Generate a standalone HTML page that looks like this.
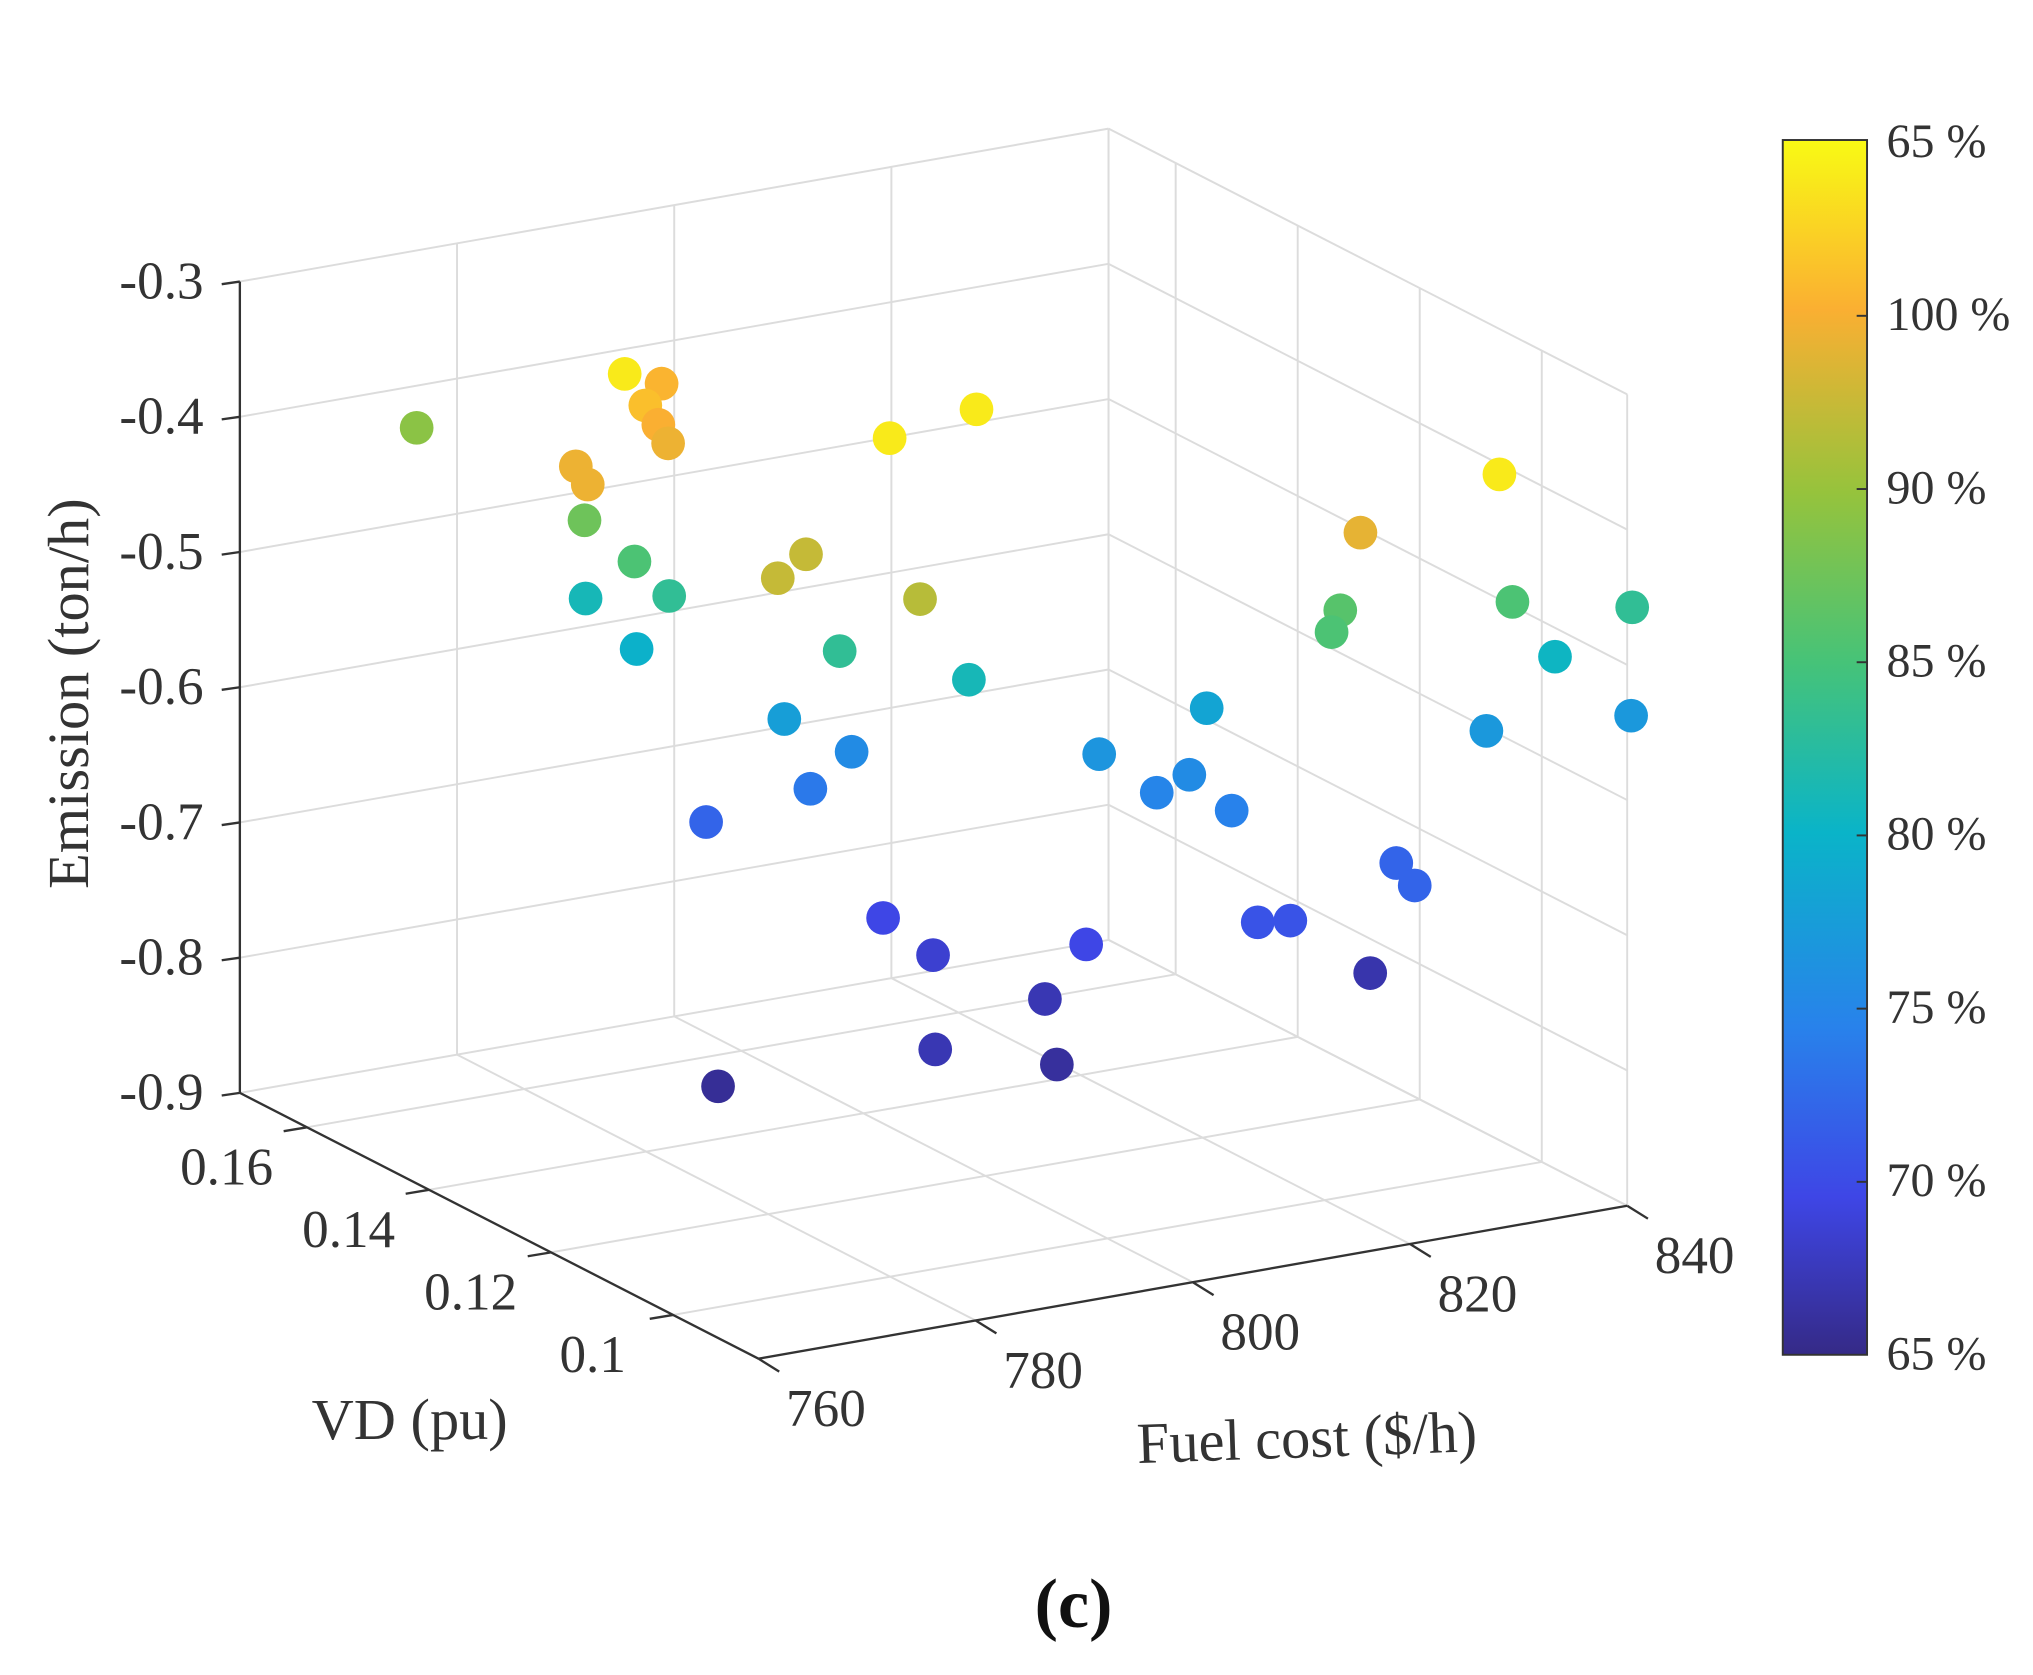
<!DOCTYPE html>
<html><head><meta charset="utf-8"><style>
html,body{margin:0;padding:0;background:#fff;}
svg{display:block;}
text{font-family:"Liberation Serif",serif;fill:#333;}
</style></head><body>
<svg id="chart" width="2033" height="1675" viewBox="0 0 1568 1292" preserveAspectRatio="none" xmlns="http://www.w3.org/2000/svg">
<defs>
<linearGradient id="parula" x1="0" y1="1" x2="0" y2="0">
<stop offset="0" stop-color="rgb(53,42,135)"/>
<stop offset="0.13" stop-color="rgb(62,70,230)"/>
<stop offset="0.27" stop-color="rgb(40,130,235)"/>
<stop offset="0.43" stop-color="rgb(10,180,200)"/>
<stop offset="0.57" stop-color="rgb(70,195,120)"/>
<stop offset="0.71" stop-color="rgb(150,195,60)"/>
<stop offset="0.86" stop-color="rgb(250,175,50)"/>
<stop offset="1" stop-color="rgb(249,250,20)"/>
</linearGradient>
</defs>
<g id="grid"></g>
<g id="axes"></g>
<g id="points"></g>
<text x="0" y="0" font-size="45" text-anchor="middle" transform="translate(68,535) rotate(-90)">Emission (ton/h)</text>
<text x="316" y="1110" font-size="45" text-anchor="middle">VD (pu)</text>
<text x="1008" y="1124" font-size="45" text-anchor="middle" transform="rotate(-2,1008,1110)">Fuel cost ($/h)</text>
<g>
<rect x="1375" y="108" width="65" height="937" fill="url(#parula)" stroke="#333" stroke-width="1.5"/>
</g>
<g id="cbticks"></g>
<text x="828" y="1255" font-size="54" font-weight="bold" text-anchor="middle" style="fill:#111">(c)</text>
</svg>
<script>
// data
const fuelCost = [770.1,772.4,775.8,774.3,775.5,776.4,767.9,769.0,796.8,804.8,836.1,823.3,768.7,773.3,768.8,776.5,773.5,786.5,789.1,799.6,792.2,804.1,787.1,793.3,789.5,779.9,816.1,826.0,821.4,824.4,828.3,838.3,837.5,837.3,839.9,835.6,839.8,834.9,826.6,828.3,830.7,833.7,824.2,796.2,800.8,814.9,811.1,801.0,812.2,781.0];
const vdValues = [0.16,0.13,0.13,0.13,0.13,0.13,0.13,0.13,0.13,0.13,0.10,0.10,0.13,0.13,0.13,0.13,0.13,0.13,0.13,0.13,0.13,0.13,0.13,0.13,0.13,0.13,0.13,0.13,0.13,0.13,0.13,0.13,0.13,0.10,0.085,0.09,0.085,0.10,0.10,0.10,0.13,0.13,0.10,0.13,0.13,0.13,0.13,0.13,0.13,0.13];
const emission = [-0.397,-0.291,-0.303,-0.317,-0.333,-0.348,-0.353,-0.368,-0.373,-0.363,-0.386,-0.411,-0.394,-0.431,-0.452,-0.461,-0.496,-0.462,-0.448,-0.496,-0.524,-0.562,-0.567,-0.600,-0.622,-0.633,-0.634,-0.614,-0.670,-0.661,-0.693,-0.559,-0.574,-0.482,-0.455,-0.497,-0.535,-0.574,-0.660,-0.679,-0.779,-0.782,-0.738,-0.727,-0.761,-0.773,-0.808,-0.831,-0.858,-0.830];
const colorValue = [0.69,0.97,0.87,0.89,0.86,0.84,0.84,0.84,0.97,0.97,0.97,0.83,0.64,0.58,0.46,0.52,0.42,0.78,0.78,0.76,0.52,0.46,0.36,0.3,0.25,0.2,0.33,0.38,0.28,0.3,0.27,0.6,0.58,0.58,0.52,0.44,0.34,0.34,0.2,0.2,0.16,0.16,0.05,0.13,0.1,0.13,0.06,0.06,0.03,0.02];
const zTicks = [-0.3,-0.4,-0.5,-0.6,-0.7,-0.8,-0.9];
const zTickLabels = ["-0.3","-0.4","-0.5","-0.6","-0.7","-0.8","-0.9"];
const fuelTicks = [760,780,800,820,840];
const fuelTickLabels = ["760","780","800","820","840"];
const vdTicks = [0.16,0.14,0.12,0.1];
const vdTickLabels = ["0.16","0.14","0.12","0.1"];
const cbarLabels = ["65 %","100 %","90 %","85 %","80 %","75 %","70 %","65 %"];

const F0=760,F1=840,V0=0.086,V1=0.171,Z0=-0.9,Z1=-0.3;
function P(f,v,z){
  return [185+(f-760)*8.375+(V1-v)*4706, 843-(f-760)*1.475+(V1-v)*2412-(z-Z0)*1043];
}
const NS='http://www.w3.org/2000/svg';
function mk(tag,attrs,parent){const e=document.createElementNS(NS,tag);for(const k in attrs)e.setAttribute(k,attrs[k]);parent.appendChild(e);return e;}
function line(a,b,parent,stroke,w){return mk('line',{x1:a[0],y1:a[1],x2:b[0],y2:b[1],stroke:stroke,'stroke-width':w},parent);}
const grid=document.getElementById('grid'), axes=document.getElementById('axes');
const GC='#dcdcdc';
fuelTicks.forEach(f=>{const l=line(P(f,V1,Z0),P(f,V1,Z1),grid,GC,1.5);

});
zTicks.forEach(z=>{const l=line(P(F0,V1,z),P(F1,V1,z),grid,GC,1.5);


const l2=line(P(F1,V1,z),P(F1,V0,z),grid,GC,1.5);

});
vdTicks.forEach(v=>{const l=line(P(F1,v,Z0),P(F1,v,Z1),grid,GC,1.5);


const l2=line(P(F0,v,Z0),P(F1,v,Z0),grid,GC,1.5);

});
fuelTicks.forEach(f=>{const l=line(P(f,V0,Z0),P(f,V1,Z0),grid,GC,1.5);

});
[[P(F1,V1,Z0),P(F1,V1,Z1)],[P(F1,V0,Z0),P(F1,V0,Z1)]].forEach(s=>{const l=line(s[0],s[1],grid,GC,1.5);

});
const AC='#333';
let a=line(P(F0,V1,Z0),P(F0,V1,Z1),axes,AC,1.8);


a=line(P(F0,V1,Z0),P(F0,V0,Z0),axes,AC,1.8);


a=line(P(F0,V0,Z0),P(F1,V0,Z0),axes,AC,1.8);


zTicks.forEach((z,i)=>{const p=P(F0,V1,z);
const t=line([p[0]-14,p[1]+2],p,axes,AC,1.8);


const tx=mk('text',{x:p[0]-28,y:p[1]+13,'font-size':41,'text-anchor':'end'},axes);tx.textContent=zTickLabels[i];

});
fuelTicks.forEach((f,i)=>{const p=P(f,V0,Z0);
const t=line(p,[p[0]+16,p[1]+10],axes,AC,1.8);


const tx=mk('text',{x:p[0]+52,y:p[1]+52,'font-size':41,'text-anchor':'middle'},axes);tx.textContent=fuelTickLabels[i];

});
vdTicks.forEach((v,i)=>{const p=P(F0,v,Z0);
const t=line(p,[p[0]-18,p[1]+3],axes,AC,1.8);


const tx=mk('text',{x:p[0]-62,y:p[1]+44,'font-size':41,'text-anchor':'middle'},axes);tx.textContent=vdTickLabels[i];

});
const stops=[[0,53,42,135],[0.13,62,70,230],[0.27,40,130,235],[0.43,10,180,200],[0.57,70,195,120],[0.71,150,195,60],[0.86,250,175,50],[1,249,250,20]];
function cmap(c){for(let i=1;i<stops.length;i++){if(c<=stops[i][0]){const s=stops[i-1],e=stops[i],t=(c-s[0])/(e[0]-s[0]);
return 'rgb('+[1,2,3].map(k=>Math.round(s[k]+(e[k]-s[k])*t)).join(',')+')';}}return 'rgb(249,250,20)';}
const pts=document.getElementById('points');
const order=fuelCost.map((f,i)=>i).sort((i,j)=>vdValues[j]-vdValues[i]);
order.forEach(i=>{const p=P(fuelCost[i],vdValues[i],emission[i]);
const c=mk('circle',{cx:p[0],cy:p[1],r:13,fill:cmap(colorValue[i])},pts);

});
const cb=document.getElementById('cbticks');
cbarLabels.forEach((s,i)=>{const y=110+i*133.6;
if(i>0&&i<cbarLabels.length-1){const t=line([1432,y],[1440,y],cb,'#333',1.5);

}
const tx=mk('text',{x:1455,y:y+11,'font-size':37},cb);tx.textContent=s;

});
</script>
</body></html>
